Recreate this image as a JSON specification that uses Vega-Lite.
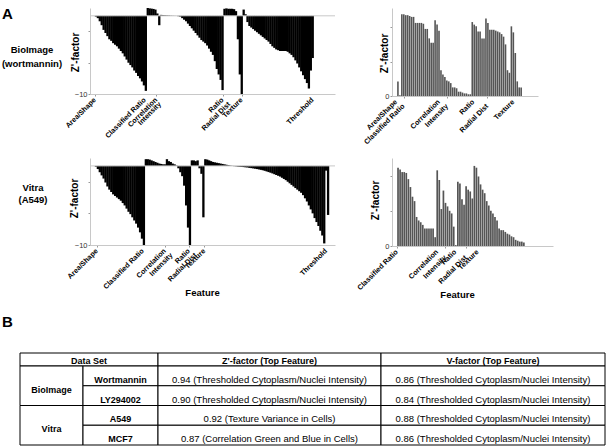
{
"$schema":"https://vega.github.io/schema/vega-lite/v6.json",
"padding":{"left":0,"top":7,"right":0,"bottom":3},
"background":"white",
"config":{
 "font":"Liberation Sans",
 "view":{"stroke":null},
 "axis":{"domainColor":"#c8c8c8","tickColor":"#999999","tickSize":2,"labelFontSize":7.5,"labelColor":"#333333","labelPadding":1,"grid":false,"titleFontSize":10,"titleFontWeight":"bold","titleColor":"#000000","labelFont":"Liberation Sans","titleFont":"Liberation Sans"}
},
"datasets":{
 "p1":[{"i":0,"v":-0.1},{"i":1,"v":-0.3},{"i":2,"v":-0.7},{"i":3,"v":-1.2},{"i":4,"v":-1.8},{"i":5,"v":-2.2},{"i":6,"v":-2.6},{"i":7,"v":-3.0},{"i":8,"v":-3.2},{"i":9,"v":-3.5},{"i":10,"v":-3.7},{"i":11,"v":-3.9},{"i":12,"v":-4.2},{"i":13,"v":-4.5},{"i":14,"v":-4.8},{"i":15,"v":-5.2},{"i":16,"v":-5.6},{"i":17,"v":-6.0},{"i":18,"v":-6.3},{"i":19,"v":-6.6},{"i":20,"v":-7.0},{"i":21,"v":-7.3},{"i":22,"v":-7.7},{"i":23,"v":-8.0},{"i":24,"v":-8.4},{"i":25,"v":-8.9},{"i":26,"v":-9.6},{"i":27,"v":1.0},{"i":28,"v":0.95},{"i":29,"v":0.92},{"i":30,"v":0.88},{"i":31,"v":0.8},{"i":32,"v":0.3},{"i":33,"v":-1.2},{"i":34,"v":0.12},{"i":35,"v":0.1},{"i":36,"v":0.08},{"i":37,"v":0.06},{"i":38,"v":0.05},{"i":39,"v":0.03},{"i":40,"v":0.02},{"i":41,"v":0.01},{"i":42,"v":0.0},{"i":43,"v":-0.05},{"i":44,"v":-0.1},{"i":45,"v":-0.3},{"i":46,"v":-0.5},{"i":47,"v":-0.7},{"i":48,"v":-1.0},{"i":49,"v":-1.3},{"i":50,"v":-1.6},{"i":51,"v":-1.9},{"i":52,"v":-2.2},{"i":53,"v":-2.5},{"i":54,"v":-2.8},{"i":55,"v":-3.1},{"i":56,"v":-3.3},{"i":57,"v":-3.5},{"i":58,"v":-3.8},{"i":59,"v":-4.2},{"i":60,"v":-4.6},{"i":61,"v":-5.0},{"i":62,"v":-5.8},{"i":63,"v":-6.8},{"i":64,"v":-7.5},{"i":65,"v":-8.2},{"i":66,"v":-9.5},{"i":67,"v":0.9},{"i":68,"v":0.95},{"i":69,"v":0.9},{"i":70,"v":0.9},{"i":71,"v":0.9},{"i":72,"v":0.85},{"i":73,"v":0.6},{"i":74,"v":-3.0},{"i":75,"v":-7.5},{"i":76,"v":-10},{"i":77,"v":0.8},{"i":78,"v":0.2},{"i":79,"v":-0.8},{"i":80,"v":-1.3},{"i":81,"v":-1.5},{"i":82,"v":-1.7},{"i":83,"v":-1.9},{"i":84,"v":-2.1},{"i":85,"v":-2.3},{"i":86,"v":-2.5},{"i":87,"v":-2.7},{"i":88,"v":-2.9},{"i":89,"v":-3.1},{"i":90,"v":-3.3},{"i":91,"v":-3.6},{"i":92,"v":-3.9},{"i":93,"v":-4.1},{"i":94,"v":-4.3},{"i":95,"v":-4.4},{"i":96,"v":-4.5},{"i":97,"v":-4.5},{"i":98,"v":-4.5},{"i":99,"v":-4.5},{"i":100,"v":-4.6},{"i":101,"v":-4.8},{"i":102,"v":-5.0},{"i":103,"v":-5.3},{"i":104,"v":-5.7},{"i":105,"v":-6.1},{"i":106,"v":-6.6},{"i":107,"v":-7.1},{"i":108,"v":-7.6},{"i":109,"v":-8.1},{"i":110,"v":-8.6},{"i":111,"v":-9.3},{"i":112,"v":-7.0},{"i":113,"v":-5.4}],
 "p2":[{"i":0,"v":0.17},{"i":1,"v":0.01},{"i":2,"v":0.95},{"i":3,"v":0.95},{"i":4,"v":0.94},{"i":5,"v":0.94},{"i":6,"v":0.93},{"i":7,"v":0.92},{"i":8,"v":0.92},{"i":9,"v":0.85},{"i":10,"v":0.85},{"i":11,"v":0.85},{"i":12,"v":0.85},{"i":13,"v":0.84},{"i":14,"v":0.78},{"i":15,"v":0.78},{"i":16,"v":0.67},{"i":17,"v":0.62},{"i":18,"v":0.62},{"i":19,"v":0.88},{"i":20,"v":0.83},{"i":21,"v":0.76},{"i":22,"v":0.30},{"i":23,"v":0.25},{"i":24,"v":0.22},{"i":25,"v":0.18},{"i":26,"v":0.17},{"i":27,"v":0.15},{"i":28,"v":0.10},{"i":29,"v":0.10},{"i":30,"v":0.09},{"i":31,"v":0.05},{"i":32,"v":0.05},{"i":33,"v":0.04},{"i":34,"v":0.03},{"i":35,"v":0.03},{"i":36,"v":0.02},{"i":37,"v":0.02},{"i":38,"v":0.86},{"i":39,"v":0.83},{"i":40,"v":0.81},{"i":41,"v":0.75},{"i":42,"v":0.75},{"i":43,"v":0.67},{"i":44,"v":0.67},{"i":45,"v":0.90},{"i":46,"v":0.85},{"i":47,"v":0.77},{"i":48,"v":0.77},{"i":49,"v":0.77},{"i":50,"v":0.76},{"i":51,"v":0.75},{"i":52,"v":0.74},{"i":53,"v":0.72},{"i":54,"v":0.69},{"i":55,"v":0.60},{"i":56,"v":0.30},{"i":57,"v":0.27},{"i":58,"v":0.81},{"i":59,"v":0.74},{"i":60,"v":0.50},{"i":61,"v":0.17},{"i":62,"v":0.10},{"i":63,"v":0.10}],
 "p3":[{"i":0,"v":-0.1},{"i":1,"v":-0.4},{"i":2,"v":-0.8},{"i":3,"v":-1.2},{"i":4,"v":-1.6},{"i":5,"v":-2.1},{"i":6,"v":-2.6},{"i":7,"v":-3.0},{"i":8,"v":-3.3},{"i":9,"v":-3.6},{"i":10,"v":-3.8},{"i":11,"v":-4.0},{"i":12,"v":-4.2},{"i":13,"v":-4.4},{"i":14,"v":-4.7},{"i":15,"v":-5.0},{"i":16,"v":-5.4},{"i":17,"v":-5.8},{"i":18,"v":-6.1},{"i":19,"v":-6.5},{"i":20,"v":-6.9},{"i":21,"v":-7.3},{"i":22,"v":-7.8},{"i":23,"v":-8.4},{"i":24,"v":-9.2},{"i":25,"v":-10},{"i":26,"v":0.85},{"i":27,"v":0.85},{"i":28,"v":0.8},{"i":29,"v":0.7},{"i":30,"v":0.6},{"i":31,"v":0.5},{"i":32,"v":0.4},{"i":33,"v":0.3},{"i":34,"v":0.25},{"i":35,"v":0.2},{"i":36,"v":0.2},{"i":37,"v":0.85},{"i":38,"v":0.6},{"i":39,"v":0.5},{"i":40,"v":0.3},{"i":41,"v":0.2},{"i":42,"v":0.05},{"i":43,"v":-0.3},{"i":44,"v":-0.8},{"i":45,"v":-1.3},{"i":46,"v":-2.5},{"i":47,"v":-5.0},{"i":48,"v":-7.8},{"i":49,"v":-10},{"i":50,"v":0.7},{"i":51,"v":0.7},{"i":52,"v":0.6},{"i":53,"v":0.7},{"i":54,"v":-0.3},{"i":55,"v":-1.0},{"i":56,"v":-6.5},{"i":57,"v":0.85},{"i":58,"v":0.8},{"i":59,"v":0.7},{"i":60,"v":0.6},{"i":61,"v":0.5},{"i":62,"v":0.45},{"i":63,"v":0.4},{"i":64,"v":0.35},{"i":65,"v":0.3},{"i":66,"v":0.25},{"i":67,"v":0.2},{"i":68,"v":0.15},{"i":69,"v":0.1},{"i":70,"v":0.05},{"i":71,"v":0.02},{"i":72,"v":-0.03},{"i":73,"v":-0.05},{"i":74,"v":-0.08},{"i":75,"v":-0.1},{"i":76,"v":-0.12},{"i":77,"v":-0.15},{"i":78,"v":-0.18},{"i":79,"v":-0.2},{"i":80,"v":-0.25},{"i":81,"v":-0.28},{"i":82,"v":-0.32},{"i":83,"v":-0.36},{"i":84,"v":-0.4},{"i":85,"v":-0.45},{"i":86,"v":-0.5},{"i":87,"v":-0.55},{"i":88,"v":-0.62},{"i":89,"v":-0.7},{"i":90,"v":-0.78},{"i":91,"v":-0.86},{"i":92,"v":-0.95},{"i":93,"v":-1.05},{"i":94,"v":-1.15},{"i":95,"v":-1.25},{"i":96,"v":-1.35},{"i":97,"v":-1.5},{"i":98,"v":-1.65},{"i":99,"v":-1.8},{"i":100,"v":-2.0},{"i":101,"v":-2.2},{"i":102,"v":-2.4},{"i":103,"v":-2.6},{"i":104,"v":-2.8},{"i":105,"v":-3.0},{"i":106,"v":-3.2},{"i":107,"v":-3.4},{"i":108,"v":-3.7},{"i":109,"v":-4.1},{"i":110,"v":-4.5},{"i":111,"v":-5.0},{"i":112,"v":-5.5},{"i":113,"v":-6.0},{"i":114,"v":-6.6},{"i":115,"v":-7.1},{"i":116,"v":-7.6},{"i":117,"v":-8.2},{"i":118,"v":-8.8},{"i":119,"v":-9.8},{"i":120,"v":-0.6},{"i":121,"v":-6.2}],
 "p4":[{"i":0,"v":0.89},{"i":1,"v":0.87},{"i":2,"v":0.84},{"i":3,"v":0.84},{"i":4,"v":0.83},{"i":5,"v":0.76},{"i":6,"v":0.67},{"i":7,"v":0.56},{"i":8,"v":0.51},{"i":9,"v":0.33},{"i":10,"v":0.29},{"i":11,"v":0.27},{"i":12,"v":0.24},{"i":13,"v":0.20},{"i":14,"v":0.20},{"i":15,"v":0.20},{"i":16,"v":0.20},{"i":17,"v":0.20},{"i":18,"v":0.10},{"i":19,"v":0.86},{"i":20,"v":0.75},{"i":21,"v":0.42},{"i":22,"v":0.63},{"i":23,"v":0.49},{"i":24,"v":0.45},{"i":25,"v":0.40},{"i":26,"v":0.37},{"i":27,"v":0.22},{"i":28,"v":0.01},{"i":29,"v":0.73},{"i":30,"v":0.71},{"i":31,"v":0.53},{"i":32,"v":0.47},{"i":33,"v":0.68},{"i":34,"v":0.64},{"i":35,"v":0.62},{"i":36,"v":0.54},{"i":37,"v":0.91},{"i":38,"v":0.89},{"i":39,"v":0.79},{"i":40,"v":0.70},{"i":41,"v":0.64},{"i":42,"v":0.60},{"i":43,"v":0.51},{"i":44,"v":0.46},{"i":45,"v":0.40},{"i":46,"v":0.37},{"i":47,"v":0.33},{"i":48,"v":0.29},{"i":49,"v":0.20},{"i":50,"v":0.18},{"i":51,"v":0.18},{"i":52,"v":0.16},{"i":53,"v":0.14},{"i":54,"v":0.13},{"i":55,"v":0.11},{"i":56,"v":0.10},{"i":57,"v":0.07},{"i":58,"v":0.06},{"i":59,"v":0.05},{"i":60,"v":0.05},{"i":61,"v":0.04}],
 "lab1":[{"i":-0.5,"t":"Area/Shape","lvl":0},{"i":25.5,"t":"Classified Ratio","lvl":0},{"i":31.5,"t":"Correlation","lvl":0},{"i":33.5,"t":"Intensity","lvl":1},{"i":66,"t":"Ratio","lvl":0},{"i":69.5,"t":"Radial Dist","lvl":1},{"i":76,"t":"Texture","lvl":0},{"i":113,"t":"Threshold","lvl":0}],
 "lab2":[{"i":-0.9,"t":"Area/Shape","lvl":0},{"i":2.9,"t":"Classified Ratio","lvl":1},{"i":21,"t":"Correlation","lvl":0},{"i":25.2,"t":"Intensity","lvl":1},{"i":38.6,"t":"Ratio","lvl":0},{"i":45.7,"t":"Radial Dist","lvl":1},{"i":59,"t":"Texture","lvl":0}],
 "lab3":[{"i":0.5,"t":"Area/Shape","lvl":0},{"i":24.5,"t":"Classified Ratio","lvl":0},{"i":36,"t":"Correlation","lvl":0},{"i":39.5,"t":"Intensity","lvl":1},{"i":48.5,"t":"Ratio","lvl":0},{"i":52,"t":"Radial Dist","lvl":1},{"i":56.5,"t":"Texture","lvl":0},{"i":120,"t":"Threshold","lvl":0}],
 "lab4":[{"i":-0.5,"t":"Classified Ratio","lvl":0},{"i":19,"t":"Correlation","lvl":0},{"i":23,"t":"Intensity","lvl":1},{"i":27.8,"t":"Ratio","lvl":0},{"i":33,"t":"Radial Dist","lvl":1},{"i":38.6,"t":"Texture","lvl":0}],
 "cells":[
  {"r0":0,"r1":1,"c0":0,"c1":2,"rm":0.5,"cm":1.08,"t":"Data Set","kind":"head"},
  {"r0":0,"r1":1,"c0":2,"c1":3,"rm":0.5,"cm":2.5,"t":"Z'-factor (Top Feature)","kind":"head"},
  {"r0":0,"r1":1,"c0":3,"c1":4,"rm":0.5,"cm":3.5,"t":"V-factor (Top Feature)","kind":"head"},
  {"r0":1,"r1":3,"c0":0,"c1":1,"rm":2,"cm":0.5,"t":"BioImage","kind":"group"},
  {"r0":3,"r1":5,"c0":0,"c1":1,"rm":4,"cm":0.5,"t":"Vitra","kind":"group"},
  {"r0":1,"r1":2,"c0":1,"c1":2,"rm":1.5,"cm":1.5,"t":"Wortmannin","kind":"name"},
  {"r0":2,"r1":3,"c0":1,"c1":2,"rm":2.5,"cm":1.5,"t":"LY294002","kind":"name"},
  {"r0":3,"r1":4,"c0":1,"c1":2,"rm":3.5,"cm":1.5,"t":"A549","kind":"name"},
  {"r0":4,"r1":5,"c0":1,"c1":2,"rm":4.5,"cm":1.5,"t":"MCF7","kind":"name"},
  {"r0":1,"r1":2,"c0":2,"c1":3,"rm":1.5,"cm":2.5,"t":"0.94 (Thresholded Cytoplasm/Nuclei Intensity)","kind":"value"},
  {"r0":1,"r1":2,"c0":3,"c1":4,"rm":1.5,"cm":3.5,"t":"0.86 (Thresholded Cytoplasm/Nuclei Intensity)","kind":"value"},
  {"r0":2,"r1":3,"c0":2,"c1":3,"rm":2.5,"cm":2.5,"t":"0.90 (Thresholded Cytoplasm/Nuclei Intensity)","kind":"value"},
  {"r0":2,"r1":3,"c0":3,"c1":4,"rm":2.5,"cm":3.5,"t":"0.84 (Thresholded Cytoplasm/Nuclei Intensity)","kind":"value"},
  {"r0":3,"r1":4,"c0":2,"c1":3,"rm":3.5,"cm":2.5,"t":"0.92 (Texture Variance in Cells)","kind":"value"},
  {"r0":3,"r1":4,"c0":3,"c1":4,"rm":3.5,"cm":3.5,"t":"0.88 (Thresholded Cytoplasm/Nuclei Intensity)","kind":"value"},
  {"r0":4,"r1":5,"c0":2,"c1":3,"rm":4.5,"cm":2.5,"t":"0.87 (Correlation Green and Blue in Cells)","kind":"value"},
  {"r0":4,"r1":5,"c0":3,"c1":4,"rm":4.5,"cm":3.5,"t":"0.86 (Thresholded Cytoplasm/Nuclei Intensity)","kind":"value"}
 ]
},
"columns":3,
"bounds":"flush",
"align":"each",
"spacing":{"row":62,"column":57},
"concat":[
 {"width":33,"height":86,
  "layer":[
   {"data":{"values":[{"t":"BioImage\n(wortmannin)"}]},"mark":{"type":"text","fontSize":9.5,"fontWeight":"bold","lineBreak":"\n","lineHeight":14,"dx":15.5,"dy":-1,"color":"#000000"},"encoding":{"text":{"field":"t","type":"nominal"}}},
   {"data":{"values":[{"t":"A"}]},"mark":{"type":"text","fontSize":15,"fontWeight":"bold","dx":-9,"dy":-37,"color":"#000000"},"encoding":{"text":{"field":"t","type":"nominal"}}}
  ]},
 {"width":245,"height":86,
  "layer":[
   {"data":{"name":"p1"},
    "mark":{"type":"bar","orient":"vertical","color":"#000000","width":2.3},
    "encoding":{
     "x":{"field":"i","type":"quantitative","scale":{"domain":[-0.5,122],"nice":false,"zero":false},
          "axis":{"values":[-0.5,25.5,31.5,33.5,66,69.5,76,113],"labels":false,"title":null}},
     "y":{"field":"v","type":"quantitative","scale":{"domain":[-10,1],"nice":false},
          "axis":{"values":[1,0,-1,-2,-3,-4,-5,-6,-7,-8,-9,-10],"labelExpr":"datum.value==1||datum.value==0||datum.value==-10?datum.label:''","title":"Z'-factor","titleX":-15,"titleY":44,"titleAngle":-90,"titleAlign":"center","titleBaseline":"middle"}}}},
   {"data":{"values":[{"v":0}]},"mark":{"type":"rule","color":"#c8c8c8","strokeWidth":1},"encoding":{"y":{"field":"v","type":"quantitative"}}},
   {"data":{"name":"lab1"},"transform":[{"filter":"datum.lvl==0"}],
    "mark":{"type":"text","angle":-45,"align":"right","baseline":"middle","fontSize":7.2,"fontWeight":"bold","color":"#000000","dx":-3.5,"dy":3.5},
    "encoding":{"x":{"field":"i","type":"quantitative"},"y":{"datum":-10},"text":{"field":"t","type":"nominal"}}},
   {"data":{"name":"lab1"},"transform":[{"filter":"datum.lvl==1"}],
    "mark":{"type":"text","angle":-45,"align":"right","baseline":"middle","fontSize":7.2,"fontWeight":"bold","color":"#000000","dx":-6.5,"dy":6.5},
    "encoding":{"x":{"field":"i","type":"quantitative"},"y":{"datum":-10},"text":{"field":"t","type":"nominal"}}}
  ]},
 {"width":146,"height":88,
  "layer":[
   {"data":{"name":"p2"},
    "mark":{"type":"bar","orient":"vertical","color":"#555555","width":1.6},
    "encoding":{
     "x":{"field":"i","type":"quantitative","scale":{"domain":[-0.476,69.05],"nice":false,"zero":false},
          "axis":{"values":[2.9,21,25.2,38.6,45.7,59],"labels":false,"title":null}},
     "y":{"field":"v","type":"quantitative","scale":{"domain":[0,1.0233],"nice":false},
          "axis":{"values":[0,0.2,0.4,0.6,0.8,1],"labelExpr":"datum.value==0?'0':datum.value==1?'1':''","title":"Z'-factor","titleX":-8,"titleY":45,"titleAngle":-90,"titleAlign":"center","titleBaseline":"middle"}}}},
   {"data":{"name":"lab2"},"transform":[{"filter":"datum.lvl==0"}],
    "mark":{"type":"text","angle":-45,"align":"right","baseline":"middle","fontSize":7.2,"fontWeight":"bold","color":"#000000","dx":-3.5,"dy":3.5},
    "encoding":{"x":{"field":"i","type":"quantitative"},"y":{"datum":0},"text":{"field":"t","type":"nominal"}}},
   {"data":{"name":"lab2"},"transform":[{"filter":"datum.lvl==1"}],
    "mark":{"type":"text","angle":-45,"align":"right","baseline":"middle","fontSize":7.2,"fontWeight":"bold","color":"#000000","dx":-6.5,"dy":6.5},
    "encoding":{"x":{"field":"i","type":"quantitative"},"y":{"datum":0},"text":{"field":"t","type":"nominal"}}}
  ]},
 {"width":33,"height":133,
  "layer":[
   {"data":{"values":[{"t":"Vitra\n(A549)"}]},"mark":{"type":"text","fontSize":9.5,"fontWeight":"bold","lineBreak":"\n","lineHeight":12,"dx":16.5,"dy":-36.5,"color":"#000000"},"encoding":{"text":{"field":"t","type":"nominal"}}},
   {"data":{"values":[{"t":"B"}]},"mark":{"type":"text","fontSize":15,"fontWeight":"bold","dx":-9,"dy":97.5,"color":"#000000"},"encoding":{"text":{"field":"t","type":"nominal"}}}
  ]},
 {"width":245,"height":87,
  "layer":[
   {"data":{"name":"p3"},
    "mark":{"type":"bar","orient":"vertical","color":"#000000","width":2.3},
    "encoding":{
     "x":{"field":"i","type":"quantitative","scale":{"domain":[-0.5,122],"nice":false,"zero":false},
          "axis":{"values":[0.5,24.5,36,39.5,48.5,52,56.5,120],"labels":false,"title":"Feature","titleX":112,"titleY":47,"titleAlign":"center","titleBaseline":"middle","titleFontSize":9.5}},
     "y":{"field":"v","type":"quantitative","scale":{"domain":[-10,1],"nice":false},
          "axis":{"values":[1,0,-1,-2,-3,-4,-5,-6,-7,-8,-9,-10],"labelExpr":"datum.value==1||datum.value==0||datum.value==-10?datum.label:''","title":"Z'-factor","titleX":-16,"titleY":40,"titleAngle":-90,"titleAlign":"center","titleBaseline":"middle"}}}},
   {"data":{"values":[{"v":0}]},"mark":{"type":"rule","color":"#c8c8c8","strokeWidth":1},"encoding":{"y":{"field":"v","type":"quantitative"}}},
   {"data":{"name":"lab3"},"transform":[{"filter":"datum.lvl==0"}],
    "mark":{"type":"text","angle":-45,"align":"right","baseline":"middle","fontSize":7.2,"fontWeight":"bold","color":"#000000","dx":-3.5,"dy":3.5},
    "encoding":{"x":{"field":"i","type":"quantitative"},"y":{"datum":-10},"text":{"field":"t","type":"nominal"}}},
   {"data":{"name":"lab3"},"transform":[{"filter":"datum.lvl==1"}],
    "mark":{"type":"text","angle":-45,"align":"right","baseline":"middle","fontSize":7.2,"fontWeight":"bold","color":"#000000","dx":-6.5,"dy":6.5},
    "encoding":{"x":{"field":"i","type":"quantitative"},"y":{"datum":-10},"text":{"field":"t","type":"nominal"}}}
  ]},
 {"width":161,"height":88,
  "layer":[
   {"data":{"name":"p4"},
    "mark":{"type":"bar","orient":"vertical","color":"#555555","width":1.7},
    "encoding":{
     "x":{"field":"i","type":"quantitative","scale":{"domain":[-0.5,72.7],"nice":false,"zero":false},
          "axis":{"values":[-0.5,19,23,27.8,33,38.6],"labels":false,"title":"Feature","titleX":65,"titleY":48,"titleAlign":"center","titleBaseline":"middle","titleFontSize":9.5}},
     "y":{"field":"v","type":"quantitative","scale":{"domain":[0,1],"nice":false},
          "axis":{"values":[0,0.2,0.4,0.6,0.8,1],"labelExpr":"datum.value==0?'0':datum.value==1?'1':''","title":"Z'-factor","titleX":-17,"titleY":42,"titleAngle":-90,"titleAlign":"center","titleBaseline":"middle"}}}},
   {"data":{"name":"lab4"},"transform":[{"filter":"datum.lvl==0"}],
    "mark":{"type":"text","angle":-45,"align":"right","baseline":"middle","fontSize":7.2,"fontWeight":"bold","color":"#000000","dx":-3.5,"dy":3.5},
    "encoding":{"x":{"field":"i","type":"quantitative"},"y":{"datum":0},"text":{"field":"t","type":"nominal"}}},
   {"data":{"name":"lab4"},"transform":[{"filter":"datum.lvl==1"}],
    "mark":{"type":"text","angle":-45,"align":"right","baseline":"middle","fontSize":7.2,"fontWeight":"bold","color":"#000000","dx":-7.5,"dy":7.5},
    "encoding":{"x":{"field":"i","type":"quantitative"},"y":{"datum":0},"text":{"field":"t","type":"nominal"}}}
  ]},
 {"width":33,"height":93,
  "data":{"name":"cells"},
  "layer":[
   {"mark":{"type":"rect","fill":"#ffffff","stroke":"#000000","strokeWidth":1},
    "encoding":{
     "x":{"field":"c0","type":"quantitative","scale":{"domain":[0,1,2,3,4],"range":[20,83,158,381,605],"nice":false,"zero":false},"axis":null},
     "x2":{"field":"c1"},
     "y":{"field":"r0","type":"quantitative","scale":{"domain":[0,1,5],"range":[0,13,92],"nice":false,"zero":false},"axis":null},
     "y2":{"field":"r1"}}},
   {"transform":[{"filter":"datum.kind=='head'"}],
    "mark":{"type":"text","fontSize":9,"fontWeight":"bold","dy":1.5,"color":"#000000"},
    "encoding":{"x":{"field":"cm","type":"quantitative","axis":null},"y":{"field":"rm","type":"quantitative","axis":null},"text":{"field":"t","type":"nominal"}}},
   {"transform":[{"filter":"datum.kind=='name'||datum.kind=='group'"}],
    "mark":{"type":"text","fontSize":9,"fontWeight":"bold","dy":4,"color":"#000000"},
    "encoding":{"x":{"field":"cm","type":"quantitative","axis":null},"y":{"field":"rm","type":"quantitative","axis":null},"text":{"field":"t","type":"nominal"}}},
   {"transform":[{"filter":"datum.kind=='value'"}],
    "mark":{"type":"text","fontSize":9.5,"dy":4,"color":"#000000"},
    "encoding":{"x":{"field":"cm","type":"quantitative","axis":null},"y":{"field":"rm","type":"quantitative","axis":null},"text":{"field":"t","type":"nominal"}}}
  ]}
]
}
